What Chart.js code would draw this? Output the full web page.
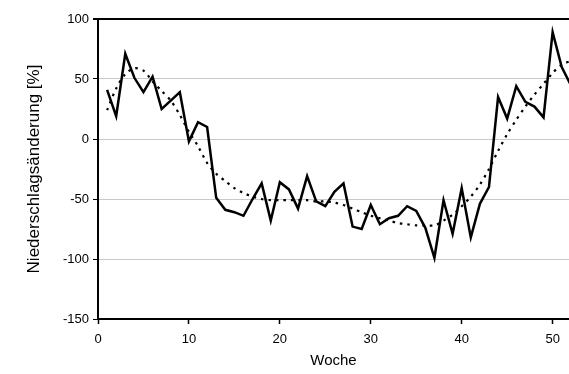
<!DOCTYPE html>
<html>
<head>
<meta charset="utf-8">
<script src="https://cdn.jsdelivr.net/npm/chart.js@4"></script>
<style>
    html, body { margin: 0; padding: 0; background: #fff; overflow: hidden; }
    #box { width: 569px; height: 374px; }
</style>
</head>
<body>
<div id="box"><canvas id="chart"></canvas></div>
<script>
// weeks
let weeks = [];
for (let w = 1; w <= 52; w++) weeks.push(w);

// weekly precipitation change [%]
let change = [
    41, 19, 71, 51, 39, 52, 25, 32, 39, -2,
    14, 10, -49, -59, -61, -64, -50, -37, -68, -36,
    -42, -58, -31, -52, -56, -44, -37, -73, -75, -55,
    -71, -66, -64, -56, -60, -74, -99, -51, -79, -41,
    -82, -54, -40, 35, 17, 44, 31, 27, 18, 89,
    60, 45
];

// smoothed trend (dotted)
let trend = [
    24, 42, 54, 59, 57, 48, 40, 32, 20, 6,
    -6, -20, -29, -35, -41, -45, -48, -50, -51, -51,
    -51, -51, -51, -52, -52, -53, -55, -58, -61, -64,
    -66, -68, -70, -71, -72, -72, -72, -68, -63, -56,
    -48, -38, -25, -10, 4, 16, 27, 37, 46, 55,
    62, 65
];

let yTicks = [100, 50, 0, -50, -100, -150];
let xTicks = [0, 10, 20, 30, 40, 50];

let font = "'Liberation Sans', Arial, sans-serif";

function pts(arr) {
    return arr.map((v, i) => ({ x: weeks[i], y: v }));
}

new Chart(document.getElementById("chart"), {
    type: "line",
    data: {
        datasets: [{
            data: pts(trend),
            borderColor: "#000",
            borderWidth: 2.2,
            borderDash: [2.5, 5],
            pointRadius: 0,
            tension: 0.3
        }, {
            data: pts(change),
            borderColor: "#000",
            borderWidth: 2.5,
            pointRadius: 0,
            tension: 0
        }]
    },
    options: {
        responsive: true,
        maintainAspectRatio: false,
        animation: false,
        layout: { padding: { top: 19, right: 0, left: 20, bottom: 0 } },
        plugins: {
            legend: { display: false },
            tooltip: { enabled: false }
        },
        scales: {
            x: {
                type: "linear",
                min: 0,
                max: 51.8,
                afterBuildTicks: s => { s.ticks = xTicks.map(v => ({ value: v })); },
                afterFit: s => { s.height = 55; },
                border: { color: "#000", width: 2 },
                grid: {
                    drawOnChartArea: false,
                    tickColor: "#000",
                    tickLength: 5,
                    tickWidth: 1.5
                },
                ticks: {
                    color: "#000",
                    font: { family: font, size: 13 },
                    maxRotation: 0,
                    padding: 8
                },
                title: {
                    display: true,
                    text: "Woche",
                    color: "#000",
                    font: { family: font, size: 15 },
                    padding: { top: 1 }
                }
            },
            y: {
                min: -150,
                max: 100,
                afterBuildTicks: s => { s.ticks = yTicks.map(v => ({ value: v })); },
                afterFit: s => { s.width = 78; },
                border: { color: "#000", width: 2 },
                grid: {
                    color: ctx => ctx.tick && ctx.tick.value === 100 ? "#000" : "#c8c8c8",
                    lineWidth: ctx => ctx.tick && ctx.tick.value === 100 ? 2 : 1,
                    tickColor: "#000",
                    tickLength: 5
                },
                ticks: {
                    color: "#000",
                    font: { family: font, size: 13 },
                    padding: 4
                },
                title: {
                    display: true,
                    text: "Niederschlagsänderung [%]",
                    color: "#000",
                    font: { family: font, size: 17 },
                    padding: { bottom: 4 }
                }
            }
        }
    }
});
</script>
</body>
</html>
